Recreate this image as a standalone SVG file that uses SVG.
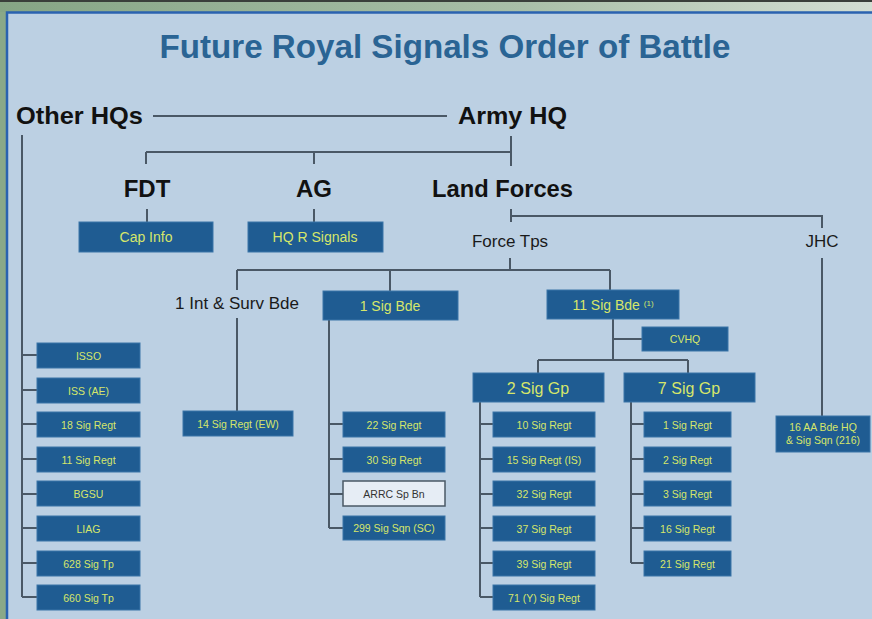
<svg xmlns="http://www.w3.org/2000/svg" width="872" height="619" viewBox="0 0 872 619">
<defs>
<linearGradient id="topg" x1="0" y1="0" x2="1" y2="0">
<stop offset="0" stop-color="#86a585"/>
<stop offset="0.6" stop-color="#a9bfa8"/>
<stop offset="1" stop-color="#d3ded3"/>
</linearGradient>
<style>
.hd{font-family:"Liberation Sans",Arial,sans-serif;font-weight:bold;font-size:24px;fill:#111}
.lb{font-family:"Liberation Sans",Arial,sans-serif;font-size:17px;fill:#1a1a1a}
.box{fill:#1f5c92;stroke:#3a74a8;stroke-width:1}
.wbox{fill:#e6edf5;stroke:#4a5866;stroke-width:1.5}
.bt{font-family:"Liberation Sans",Arial,sans-serif;font-size:10.5px;fill:#d6e66a;text-anchor:middle}
.bt2{font-family:"Liberation Sans",Arial,sans-serif;font-size:14px;fill:#d6e66a;text-anchor:middle}
.bt3{font-family:"Liberation Sans",Arial,sans-serif;font-size:16px;fill:#d6e66a;text-anchor:middle}
.c{stroke:#4a5866;stroke-width:2;fill:none}
</style>
</defs>
<rect x="0" y="0" width="872" height="619" fill="#8aa888"/>
<rect x="0" y="0" width="872" height="12" fill="url(#topg)"/>
<rect x="0" y="0" width="872" height="2" fill="#3a3f3a"/>
<rect x="7" y="12.5" width="868" height="610" fill="#bcd0e3" stroke="#2a62b0" stroke-width="2.5"/>

<text x="445" y="58" text-anchor="middle" font-family="'Liberation Sans',Arial,sans-serif" font-weight="bold" font-size="34" fill="#2a6494" textLength="571" lengthAdjust="spacingAndGlyphs">Future Royal Signals Order of Battle</text>

<g id="connectors">
<path class="c" d="M153 116H447"/>
<path class="c" d="M22 135V597M22 355H37M22 390H37M22 424H37M22 459H37M22 494H37M22 528H37M22 563H37M22 597H37"/>
<path class="c" d="M511 136V166M146 152H511M146 152V164M314 152V164"/>
<path class="c" d="M147 209V222M314 209V222"/>
<path class="c" d="M511 209V222M511 216H822V228"/>
<path class="c" d="M822 258V416"/>
<path class="c" d="M510 258V270M237 270H610M237 270V290M390 270V291M610 270V290"/>
<path class="c" d="M237 318V411"/>
<path class="c" d="M329 320V528M329 424H343M329 459H343M329 494H343M329 528H343"/>
<path class="c" d="M613 319V360M613 339H642M538 360H688M538 360V373M688 360V373"/>
<path class="c" d="M480 402V597M480 424H493M480 459H493M480 494H493M480 528H493M480 563H493M480 597H493"/>
<path class="c" d="M631 402V563M631 424H644M631 459H644M631 494H644M631 528H644M631 563H644"/>
</g>

<g id="other-hqs"><text class="hd" x="16" y="124" textLength="127" lengthAdjust="spacingAndGlyphs">Other HQs</text></g>
<g id="army-hq"><text class="hd" x="458" y="124" textLength="109" lengthAdjust="spacingAndGlyphs">Army HQ</text></g>
<g id="fdt"><text class="hd" x="147" y="197" text-anchor="middle">FDT</text></g>
<g id="ag"><text class="hd" x="314" y="197" text-anchor="middle">AG</text></g>
<g id="land-forces"><text class="hd" x="432" y="197" textLength="141" lengthAdjust="spacingAndGlyphs">Land Forces</text></g>
<g id="force-tps"><text class="lb" x="510" y="247" text-anchor="middle">Force Tps</text></g>
<g id="jhc"><text class="lb" x="822" y="247" text-anchor="middle">JHC</text></g>
<g id="int-surv"><text class="lb" x="237" y="309" text-anchor="middle" font-size="14">1 Int &amp; Surv Bde</text></g>

<g id="cap-info"><rect class="box" x="79" y="222" width="134" height="30"/><text class="bt2" x="146" y="242">Cap Info</text></g>
<g id="hq-r-signals"><rect class="box" x="248" y="222" width="135" height="30"/><text class="bt2" x="315" y="242">HQ R Signals</text></g>

<g id="sig-bde-1"><rect class="box" x="323" y="291" width="135" height="29"/><text class="bt2" x="390" y="311">1 Sig Bde</text></g>
<g id="sig-bde-11"><rect class="box" x="547" y="290" width="132" height="29"/><text class="bt2" x="613" y="310">11 Sig Bde <tspan font-size="8" dy="-4">(1)</tspan></text></g>
<g id="cvhq"><rect class="box" x="642" y="327" width="86" height="24"/><text class="bt" x="685" y="343">CVHQ</text></g>
<g id="sig-gp-2"><rect class="box" x="473" y="373" width="131" height="29"/><text class="bt3" x="538" y="394">2 Sig Gp</text></g>
<g id="sig-gp-7"><rect class="box" x="624" y="373" width="131" height="29"/><text class="bt3" x="689" y="394">7 Sig Gp</text></g>

<g id="isso"><rect class="box" x="37" y="343" width="103" height="25"/><text class="bt" x="88.5" y="359.5">ISSO</text></g>
<g id="iss-ae"><rect class="box" x="37" y="378" width="103" height="25"/><text class="bt" x="88.5" y="394.5">ISS (AE)</text></g>
<g id="sig-regt-18"><rect class="box" x="37" y="412" width="103" height="25"/><text class="bt" x="88.5" y="428.5">18 Sig Regt</text></g>
<g id="sig-regt-11"><rect class="box" x="37" y="447" width="103" height="25"/><text class="bt" x="88.5" y="463.5">11 Sig Regt</text></g>
<g id="bgsu"><rect class="box" x="37" y="481" width="103" height="25"/><text class="bt" x="88.5" y="497.5">BGSU</text></g>
<g id="liag"><rect class="box" x="37" y="516" width="103" height="25"/><text class="bt" x="88.5" y="532.5">LIAG</text></g>
<g id="sig-tp-628"><rect class="box" x="37" y="551" width="103" height="25"/><text class="bt" x="88.5" y="567.5">628 Sig Tp</text></g>
<g id="sig-tp-660"><rect class="box" x="37" y="585" width="103" height="25"/><text class="bt" x="88.5" y="601.5">660 Sig Tp</text></g>

<g id="sig-regt-14"><rect class="box" x="183" y="411" width="110" height="25"/><text class="bt" x="238" y="427.5">14 Sig Regt (EW)</text></g>

<g id="sig-regt-22"><rect class="box" x="343" y="412" width="102" height="25"/><text class="bt" x="394" y="428.5">22 Sig Regt</text></g>
<g id="sig-regt-30"><rect class="box" x="343" y="447" width="102" height="25"/><text class="bt" x="394" y="463.5">30 Sig Regt</text></g>
<g id="arrc"><rect class="wbox" x="343" y="481" width="102" height="25"/><text class="bt" x="394" y="497.5" style="fill:#333">ARRC Sp Bn</text></g>
<g id="sig-sqn-299"><rect class="box" x="343" y="516" width="102" height="24"/><text class="bt" x="394" y="532" font-size="9.5">299 Sig Sqn (SC)</text></g>

<g id="sig-regt-10"><rect class="box" x="493" y="412" width="102" height="25"/><text class="bt" x="544" y="428.5">10 Sig Regt</text></g>
<g id="sig-regt-15"><rect class="box" x="493" y="447" width="102" height="25"/><text class="bt" x="544" y="463.5">15 Sig Regt (IS)</text></g>
<g id="sig-regt-32"><rect class="box" x="493" y="481" width="102" height="25"/><text class="bt" x="544" y="497.5">32 Sig Regt</text></g>
<g id="sig-regt-37"><rect class="box" x="493" y="516" width="102" height="25"/><text class="bt" x="544" y="532.5">37 Sig Regt</text></g>
<g id="sig-regt-39"><rect class="box" x="493" y="551" width="102" height="25"/><text class="bt" x="544" y="567.5">39 Sig Regt</text></g>
<g id="sig-regt-71"><rect class="box" x="493" y="585" width="102" height="25"/><text class="bt" x="544" y="601.5">71 (Y) Sig Regt</text></g>

<g id="sig-regt-1"><rect class="box" x="644" y="412" width="87" height="25"/><text class="bt" x="687.5" y="428.5">1 Sig Regt</text></g>
<g id="sig-regt-2"><rect class="box" x="644" y="447" width="87" height="25"/><text class="bt" x="687.5" y="463.5">2 Sig Regt</text></g>
<g id="sig-regt-3"><rect class="box" x="644" y="481" width="87" height="25"/><text class="bt" x="687.5" y="497.5">3 Sig Regt</text></g>
<g id="sig-regt-16"><rect class="box" x="644" y="516" width="87" height="25"/><text class="bt" x="687.5" y="532.5">16 Sig Regt</text></g>
<g id="sig-regt-21"><rect class="box" x="644" y="551" width="87" height="25"/><text class="bt" x="687.5" y="567.5">21 Sig Regt</text></g>

<g id="aa-bde-16"><rect class="box" x="776" y="416" width="94" height="36"/><text class="bt" x="823" y="431" font-size="9">16 AA Bde HQ</text><text class="bt" x="823" y="444" font-size="9">&amp; Sig Sqn (216)</text></g>
</svg>
